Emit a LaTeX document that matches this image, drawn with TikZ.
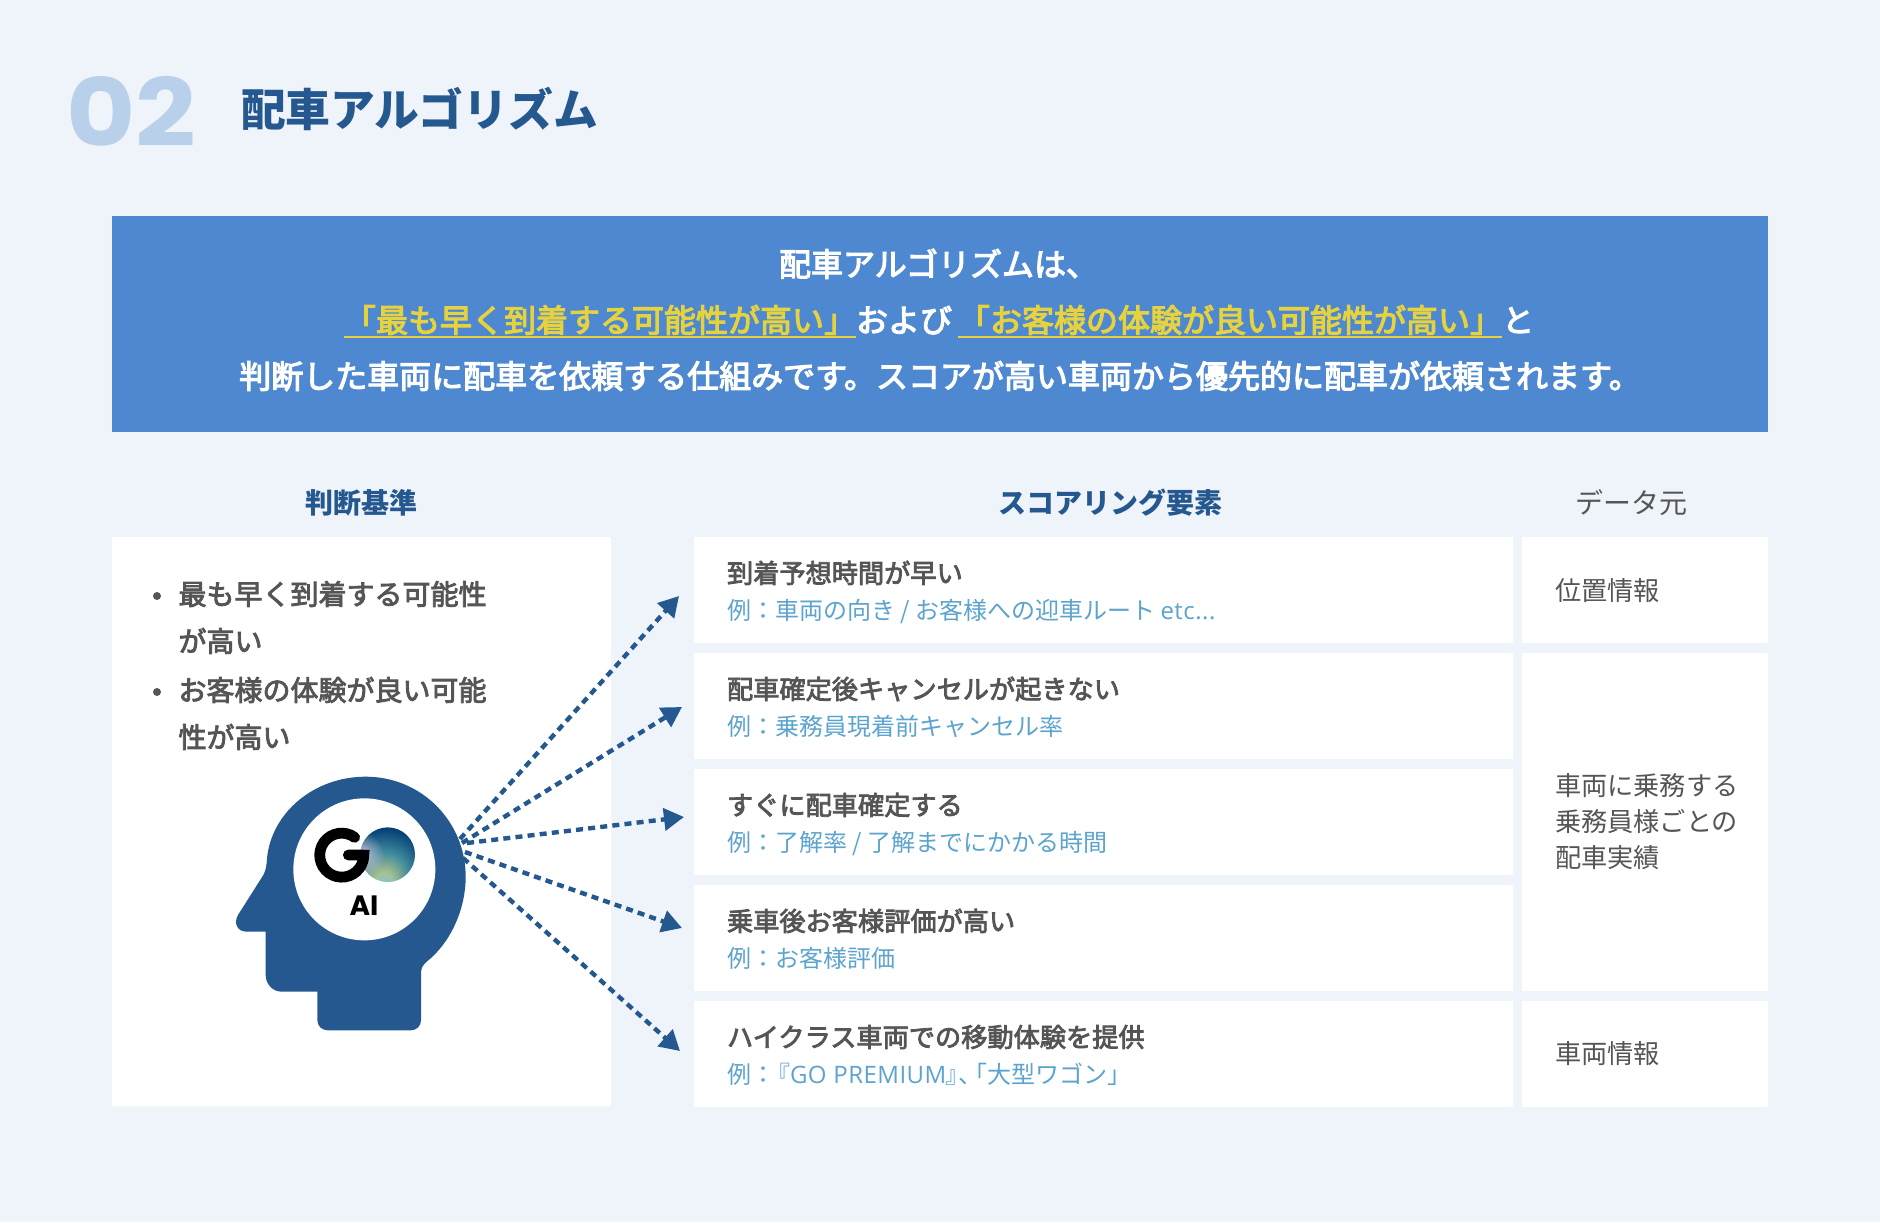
\documentclass[tikz,border=0pt]{standalone}
\usepackage{fontspec}
\setmainfont{Noto Sans CJK JP}
\newfontfamily\medf[BoldFont={Noto Sans CJK JP},BoldFeatures={FakeBold=3}]{Noto Sans CJK JP}
\newfontfamily\semif[BoldFont={Noto Sans CJK JP},BoldFeatures={FakeBold=3.6}]{Noto Sans CJK JP}
\newfontfamily\latf[LetterSpace=2]{Open Sans}
\newfontfamily\numfont{Poppins}
\usetikzlibrary{arrows.meta,fadings}
\definecolor{bgc}{HTML}{EFF4FB}
\definecolor{bannerc}{HTML}{4D88D1}
\definecolor{darkb}{HTML}{24588F}
\definecolor{numc}{HTML}{B9D0EB}
\definecolor{yel}{HTML}{E6D23F}
\definecolor{grayt}{HTML}{555555}
\definecolor{subt}{HTML}{5CA4CE}
\definecolor{sage}{HTML}{B2C38C}
\definecolor{tealb}{HTML}{3F8A9C}
\definecolor{navyb}{HTML}{023A74}
\definecolor{lav}{HTML}{CFC8DE}
\definecolor{skyb}{HTML}{6FC4E0}
\pgfdeclareradialshading{ballbase}{\pgfpoint{-4bp}{-26bp}}{color(0bp)=(sage); color(7bp)=(sage); color(22bp)=(tealb); color(40bp)=(navyb); color(90bp)=(navyb)}
\tikzfading[name=softc,inner color=transparent!0,outer color=transparent!100]
\tikzset{
  x=0.5pt,y=-0.5pt,
  panel/.style={fill=white,draw=none,inner sep=0,outer sep=0,anchor=north west},
  lab/.style={inner sep=0,outer sep=0,anchor=west,text height=#1*0.44pt,text depth=#1*0.06pt},
  ttl/.style={lab=44,font=\fontsize{22.4pt}{22pt}\selectfont\bfseries,text=darkb},
  ban/.style={lab=32,font=\fontsize{16pt}{16pt}\semif\bfseries,text=white},
  banY/.style={ban,text=yel},
  heading/.style={lab=28,anchor=center,font=\fontsize{14pt}{14pt}\selectfont\bfseries,text=darkb},
  headreg/.style={lab=28,anchor=center,font=\fontsize{14pt}{14pt}\selectfont,text=grayt},
  bul/.style={lab=28,font=\fontsize{14pt}{14pt}\medf\bfseries,text=grayt},
  rowt/.style={lab=26,font=\fontsize{13.1pt}{13pt}\medf\bfseries,text=grayt},
  rows/.style={lab=24,font=\fontsize{12pt}{12pt}\selectfont,text=subt},
  src/.style={lab=26,font=\fontsize{13.1pt}{13pt}\selectfont,text=grayt},
  ray/.style={draw=darkb,line width=2.2pt,dash pattern=on 3.5pt off 2.6pt,-{Triangle[length=10pt,width=11pt]}},
  under/.style={draw=yel,line width=1pt},
  dot/.style={circle,fill=grayt,inner sep=0,minimum size=4pt},
}
\begin{document}
\begin{tikzpicture}
\useasboundingbox (0,0) rectangle (1880,1222);
\fill[bgc] (0,0) rectangle (1880,1222);
% title
\node[inner sep=0,anchor=west,text=numc,font=\fontsize{47pt}{47pt}\selectfont\numfont\bfseries,xscale=1.13] (num) at (66,111) {02};
\node[ttl] (title) at (241,110) {配車アルゴリズム};
% banner
\node[panel,fill=bannerc,minimum width=828pt,minimum height=108pt] (banner) at (112,216) {};
\node[ban] (b1) at (779,264) {配車アルゴリズムは、};
\node[banY] (b2a) at (344,320) {「最も早く到着する可能性が高い」};
\node[ban] (b2b) at (856,320) {および};
\node[banY] (b2c) at (958,320) {「お客様の体験が良い可能性が高い」};
\node[ban] (b2d) at (1502,320) {と};
\node[ban,anchor=center] (b3) at (940,376) {判断した車両に配車を依頼する仕組みです。スコアが高い車両から優先的に配車が依頼されます。};
\draw[under] (b2a.west|-0,337) -- (b2a.east|-0,337);
\draw[under] (b2c.west|-0,337) -- (b2c.east|-0,337);
% headings
\node[heading] (h1) at (361,503) {判断基準};
\node[heading] (h2) at (1110,503) {スコアリング要素};
\node[headreg] (h3) at (1631,503) {データ元};
% panels
\node[panel,minimum width=249.5pt,minimum height=284.5pt] (left) at (112,537) {};
\node[panel,minimum width=409.5pt,minimum height=53pt] (r1) at (694,537) {};
\node[panel,minimum width=409.5pt,minimum height=53pt] (r2) at (694,653) {};
\node[panel,minimum width=409.5pt,minimum height=53pt] (r3) at (694,769) {};
\node[panel,minimum width=409.5pt,minimum height=53pt] (r4) at (694,885) {};
\node[panel,minimum width=409.5pt,minimum height=53pt] (r5) at (694,1001) {};
\node[panel,minimum width=123pt,minimum height=53pt] (s1) at (1522,537) {};
\node[panel,minimum width=123pt,minimum height=169pt] (s2) at (1522,653) {};
\node[panel,minimum width=123pt,minimum height=53pt] (s3) at (1522,1001) {};
% bullets
\node[dot] (d1) at (157,596) {};
\node[dot] (d2) at (157,692) {};
\node[bul] (l1) at (178.5,594) {最も早く到着する可能性};
\node[bul] (l2) at (178.5,641) {が高い};
\node[bul] (l3) at (178.5,690) {お客様の体験が良い可能};
\node[bul] (l4) at (178.5,737) {性が高い};
% rows
\node[rowt] (t1) at (727,573) {到着予想時間が早い};
\node[rows] (u1) at (727,610) {例：車両の向き / お客様への迎車ルート {\latf etc...}};
\node[rowt] (t2) at (727,689) {配車確定後キャンセルが起きない};
\node[rows] (u2) at (727,726) {例：乗務員現着前キャンセル率};
\node[rowt] (t3) at (727,805) {すぐに配車確定する};
\node[rows] (u3) at (727,842) {例：了解率 / 了解までにかかる時間};
\node[rowt] (t4) at (727,921) {乗車後お客様評価が高い};
\node[rows] (u4) at (727,958) {例：お客様評価};
\node[rowt] (t5) at (727,1037) {ハイクラス車両での移動体験を提供};
\node[rows] (u5) at (727,1074) {例：\kern-4.5pt『{\latf GO PREMIUM}\kern-0.5pt』\kern-5.5pt、\kern-9.5pt「大型ワゴン」};
% sources
\node[src] (v1) at (1555,591) {位置情報};
\node[src] (v2) at (1555,786) {車両に乗務する};
\node[src] (v3) at (1555,822) {乗務員様ごとの};
\node[src] (v4) at (1555,858) {配車実績};
\node[src] (v5) at (1555,1054) {車両情報};
% head icon (coordinates read in a 3x grid)
\begin{scope}[shift={(200,740)},x=0.16667pt,y=-0.16667pt]
\fill[darkb] (497,110)
  .. controls (665,110) and (797,245) .. (797,410)
  .. controls (797,510) and (750,610) .. (680,665)
  .. controls (668,675) and (663,685) .. (663,700)
  -- (663,840) .. controls (663,858) and (650,871) .. (632,871)
  -- (385,871) .. controls (365,871) and (352,858) .. (352,840)
  -- (352,755) -- (245,755)
  .. controls (218,755) and (197,732) .. (197,705)
  -- (197,575) -- (140,575)
  .. controls (112,575) and (100,550) .. (114,525)
  -- (190,405)
  .. controls (198,390) and (200,375) .. (201,355)
  .. controls (215,215) and (345,110) .. (497,110) -- cycle;
\fill[white] (493,388) circle[radius=213];
% ball
\begin{scope}
\clip (563,344) circle[radius=82];
\shade[shading=ballbase] (563,344) circle[radius=82];
\fill[lav,path fading=softc] (480,345) circle[radius=72];
\fill[skyb,path fading=softc] (555,445) circle[radius=55];
\end{scope}
% G
\draw[black,line width=5.4pt,line cap=round] (464,292) arc[start angle=-54,end angle=-360,radius=66] -- (445,345);
\end{scope}
\node[inner sep=0,text=black,font=\fontsize{14pt}{14pt}\selectfont\numfont\bfseries] (ai) at (364,906) {AI};
% rays
\coordinate (o1) at (460,839);
\coordinate (o2) at (462,843);
\coordinate (o3) at (467,843);
\coordinate (o4) at (465,852);
\coordinate (o5) at (463,858);
\coordinate (e1) at (679,596);
\coordinate (e2) at (682,707);
\coordinate (e3) at (684,817);
\coordinate (e4) at (682,928);
\coordinate (e5) at (680,1051);
\draw[ray] (o1) -- (e1);
\draw[ray] (o2) -- (e2);
\draw[ray] (o3) -- (e3);
\draw[ray] (o4) -- (e4);
\draw[ray] (o5) -- (e5);
\end{tikzpicture}
\end{document}
